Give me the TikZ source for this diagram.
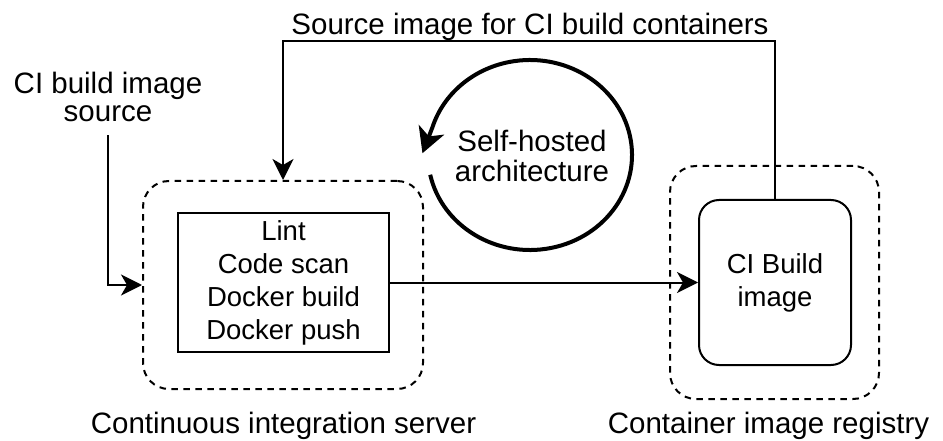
\documentclass[tikz,border=0pt]{standalone}
\usepackage{fontspec}
\setmainfont{Liberation Sans}
\usetikzlibrary{arrows.meta}
\begin{document}
\begin{tikzpicture}[x=1pt,y=-1pt,
  grp/.style={draw, line width=2pt, dash pattern=on 6.5pt off 5.5pt, rounded corners=26pt, inner sep=0pt},
  stepbox/.style={draw, line width=2pt, align=center, inner sep=0pt, font=\fontsize{27.5}{33}\selectfont},
  imgbox/.style={draw, line width=2pt, rounded corners=20pt, align=center, inner sep=0pt, font=\fontsize{27.5}{33}\selectfont},
  lbl/.style={align=center, inner sep=0pt, font=\fontsize{29.5}{28}\selectfont},
  conn/.style={line width=2pt, -{Stealth[length=21pt, width=21pt, inset=6pt]}},
  selfloop/.style={line width=4pt, -{Stealth[length=25pt, width=27pt, inset=7pt]}}
]
\path[use as bounding box] (0,0) rectangle (943,441);

% groups
\node[grp, minimum width=280pt, minimum height=208pt] (cig) at (283,285) {};
\node[grp, minimum width=209pt, minimum height=233pt] (rg) at (774.5,282.5) {};

% boxes
\node[stepbox, minimum width=211pt, minimum height=139pt] (ci) at (283.5,282.5)
  {Lint\\Code scan\\Docker build\\Docker push};
\node[imgbox, minimum width=152pt, minimum height=165pt] (img) at (775,282.5)
  {CI Build\\image};

% labels
\node[lbl, anchor=base] (toplbl) at (530,35) {Source image for CI build containers};
\node[lbl] (srclbl) at (108,97) {CI build image\\source};
\node[lbl, font=\fontsize{29.5}{30}\selectfont] (sh) at (532,156) {Self-hosted\\architecture};
\node[lbl, anchor=base] (cilbl) at (283.5,433) {Continuous integration server};
\node[lbl, anchor=base] (rglbl) at (768.5,433) {Container image registry};

% connectors
\coordinate (toprow) at (0,41);
\draw[conn] (img.north) -- (img.north |- toprow) -| (cig.north);
\draw[conn] ([yshift=-13pt]srclbl.south) |- (cig.west);
\draw[conn] (ci.east) -- (img.west);

% self-hosted loop
\coordinate (loopc) at (530,155);
\draw[selfloop] (loopc) ++(168:102 and 95)
  arc[start angle=168, end angle=-163, x radius=102, y radius=95] -- ++(-10,26);
\end{tikzpicture}
\end{document}
